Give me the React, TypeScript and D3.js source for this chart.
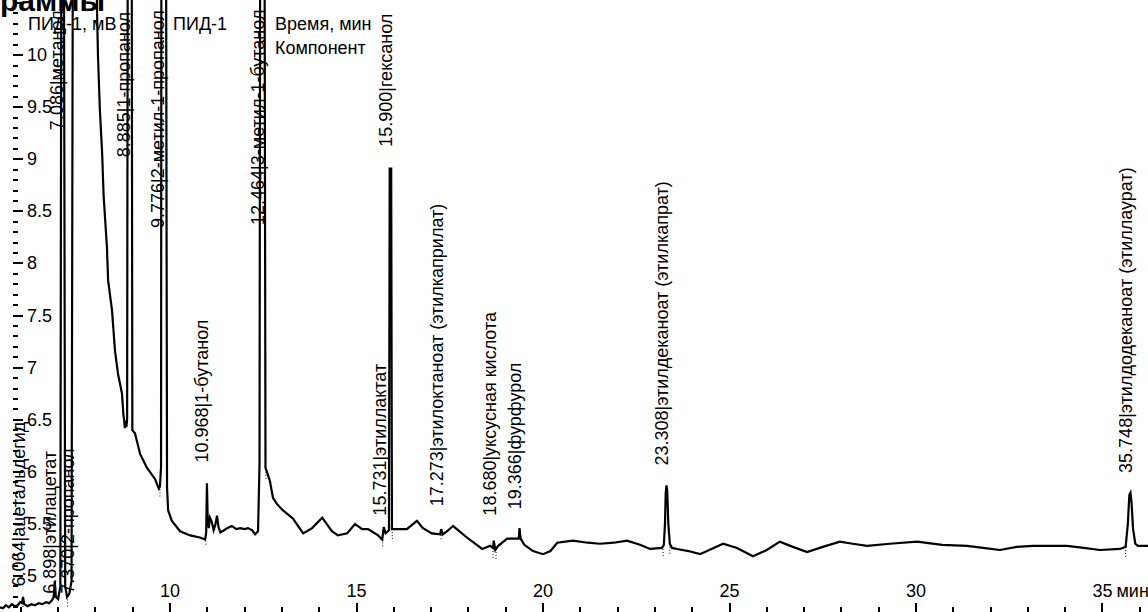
import React from "react";
import * as d3 from "d3";

const W = 1148;
const H = 612;
const FONT = "'Liberation Sans', Arial, sans-serif";
const FS = 18;

// Chromatogram trace: retention time (min) and detector signal (mV)
const traceTime = [
  5.44, 5.52, 5.6, 5.68, 5.76, 5.84, 5.92, 5.98, 6.03, 6.06, 6.09, 6.18, 6.28, 6.38, 6.48, 6.58, 6.68, 6.76,
  6.84, 6.88, 6.91, 6.94, 7.0, 7.06, 7.09, 7.15, 7.19, 7.24, 7.3, 7.36, 7.4, 8.0, 8.043, 8.07, 8.12, 8.18,
  8.22, 8.31, 8.34, 8.445, 8.525, 8.606, 8.713, 8.75, 8.77, 8.79, 8.81, 8.83, 8.85, 8.87, 8.97, 8.99, 9.06,
  9.2, 9.38, 9.6, 9.7, 9.73, 9.76, 9.77, 9.89, 9.92, 9.95, 10.05, 10.27, 10.54, 10.8, 10.94, 10.97, 10.99,
  11.01, 11.04, 11.07, 11.12, 11.17, 11.22, 11.26, 11.3, 11.35, 11.45, 11.53, 11.66, 11.78, 11.88, 12.0,
  12.09, 12.2, 12.28, 12.36, 12.4, 12.42, 12.53, 12.56, 12.68, 12.76, 12.87, 13.03, 13.3, 13.57, 13.81,
  14.08, 14.34, 14.5, 14.75, 14.96, 15.15, 15.31, 15.58, 15.69, 15.73, 15.78, 15.87, 15.89, 15.93, 15.95,
  16.09, 16.35, 16.62, 16.78, 17.02, 17.24, 17.27, 17.31, 17.43, 17.59, 17.96, 18.37, 18.58, 18.66, 18.68,
  18.72, 18.8, 19.04, 19.28, 19.35, 19.37, 19.4, 19.5, 19.73, 20.0, 20.2, 20.38, 20.8, 21.2, 21.53, 21.9,
  22.25, 22.6, 22.87, 23.19, 23.24, 23.27, 23.29, 23.31, 23.33, 23.36, 23.4, 23.46, 23.59, 23.9, 24.21,
  24.83, 25.2, 25.63, 26.0, 26.35, 26.7, 27.08, 27.5, 27.96, 28.3, 28.69, 29.3, 30.03, 30.7, 31.37, 31.8,
  32.25, 32.7, 33.14, 33.6, 34.05, 34.5, 34.93, 35.47, 35.62, 35.68, 35.72, 35.75, 35.78, 35.82, 35.88,
  35.95, 36.22,
];
const traceSignal = [
  4.7, 4.69, 4.72, 4.7, 4.73, 4.71, 4.72, 4.75, 4.74, 4.8, 4.73, 4.71, 4.73, 4.72, 4.74, 4.73, 4.75, 4.74,
  4.77, 4.8, 4.95, 4.8, 4.78, 4.9, 12.0, 12.0, 4.9, 4.8, 4.83, 4.95, 12.0, 12.0, 10.43, 9.98, 9.47, 9.06,
  8.65, 8.15, 7.84, 7.55, 7.16, 6.94, 6.75, 6.55, 6.5, 6.42, 6.49, 6.43, 6.5, 12.0, 12.0, 6.4, 6.37,
  6.17, 6.04, 5.93, 5.84, 5.86, 6.05, 12.0, 12.0, 5.85, 5.63, 5.53, 5.43, 5.39, 5.37, 5.35, 5.42, 5.89,
  5.55, 5.46, 5.56, 5.52, 5.44, 5.5, 5.58, 5.47, 5.42, 5.44, 5.46, 5.48, 5.45, 5.46, 5.45,
  5.46, 5.44, 5.4, 5.43, 6.08, 12.0, 12.0, 6.04, 5.91, 5.75, 5.69, 5.63, 5.55, 5.41, 5.46,
  5.56, 5.43, 5.39, 5.41, 5.5, 5.45, 5.45, 5.39, 5.35, 5.47, 5.41, 5.44, 8.91, 8.91, 5.45,
  5.45, 5.45, 5.53, 5.46, 5.41, 5.4, 5.45, 5.4, 5.43, 5.48, 5.37, 5.26, 5.29, 5.27, 5.34,
  5.25, 5.29, 5.36, 5.36, 5.36, 5.46, 5.36, 5.3, 5.24, 5.21, 5.24, 5.32, 5.34, 5.32, 5.31, 5.32,
  5.34, 5.3, 5.26, 5.27, 5.3, 5.5, 5.8, 5.87, 5.82, 5.5, 5.31, 5.27, 5.26, 5.24, 5.21,
  5.31, 5.27, 5.19, 5.25, 5.33, 5.28, 5.23, 5.28, 5.33, 5.31, 5.29, 5.31, 5.33, 5.3, 5.29, 5.27,
  5.25, 5.28, 5.29, 5.29, 5.29, 5.27, 5.25, 5.26, 5.28, 5.5, 5.78, 5.8, 5.7, 5.45, 5.31,
  5.29, 5.29,
];

// Identified peaks
const peakTimes = [6.064, 6.898, 7.086, 7.37, 8.885, 9.776, 10.968, 12.464, 15.731, 15.9, 17.273, 18.68, 19.366, 23.308, 35.748];
const peakNames = [
  "ацетальдегид", "этилацетат", "метанол", "2-пропанол", "1-пропанол", "2-метил-1-пропанол", "1-бутанол",
  "3-метил-1-бутанол", "этиллактат", "гексанол", "этилоктаноат (этилкаприлат)", "уксусная кислота",
  "фурфурол", "этилдеканоат (этилкапрат)", "этилдодеканоат (этиллаурат)",
];
// signal level (mV) at which each peak label begins
const labelLevels = [4.9, 4.83, 9.28, 4.83, 9.02, 8.34, 6.09, 8.37, 5.58, 9.12, 5.67, 5.58, 5.64, 6.06, 5.99];

// Peak start / end marks (min)
const markerTimes = [6.06, 7.25, 8.86, 9.73, 10.96, 12.4, 12.57, 15.7, 15.96, 17.27, 18.66, 18.74, 19.37, 23.22, 23.4, 35.62, 35.8];

const yTickLabels = [5, 5.5, 6, 6.5, 7, 7.5, 8, 8.5, 9, 9.5, 10];
const xTickLabels = [10, 15, 20, 25, 30, 35];

export default function App() {
  const x = d3.scaleLinear().domain([5.442, 36.22]).range([0, W]);
  const y = d3.scaleLinear().domain([4.655, 10.529]).range([H, 0]);

  const pts: [number, number][] = traceTime.map((t, i) => [t, traceSignal[i]]);
  const line = d3
    .line<[number, number]>()
    .x((d) => x(d[0]))
    .y((d) => y(d[1]));

  const interp = (t: number) => {
    const i = d3.bisector((d: [number, number]) => d[0]).left(pts, t);
    if (i <= 0) return pts[0][1];
    if (i >= pts.length) return pts[pts.length - 1][1];
    const a = pts[i - 1], b = pts[i];
    const f = (t - a[0]) / (b[0] - a[0]);
    return Math.min(a[1] + f * (b[1] - a[1]), 10.6);
  };

  const yMinorTicks = d3.range(47, 106).map((v) => v / 10);
  const xMinorTicks = d3.range(6, 37);
  const fmt = d3.format(".3f");
  const yFmt = (v: number) => (Number.isInteger(v) ? String(v) : v.toFixed(1));

  return (
    <svg
      width={W}
      height={H}
      style={{ position: "absolute", left: 0, top: 0, background: "#fff", overflow: "hidden" }}
      fontFamily={FONT}
    >
      <rect width={W} height={H} fill="#fff" />
      {/* title fragment */}
      <text x={0} y={11} fontSize={30} fontWeight="bold" fill="#000">раммы</text>

      {/* y axis ticks */}
      {yMinorTicks.map((v) => {
        const major = Math.abs(v * 2 - Math.round(v * 2)) < 1e-6;
        return (
          <line key={"yt" + v} x1={13} x2={major ? 23 : 18} y1={y(v)} y2={y(v)} stroke="#000" strokeWidth={2} shapeRendering="crispEdges" />
        );
      })}
      {yTickLabels.map((v) => (
        <text key={"yl" + v} x={27} y={y(v) + 6} fontSize={FS} fill="#000">{yFmt(v)}</text>
      ))}

      {/* x axis ticks */}
      {xMinorTicks.map((t) => (
        <line key={"xt" + t} x1={x(t)} x2={x(t)} y1={t % 5 === 0 ? 603 : 607} y2={H} stroke="#000" strokeWidth={2} shapeRendering="crispEdges" />
      ))}
      {xTickLabels.map((t) => (
        <text key={"xl" + t} x={x(t)} y={597} fontSize={FS} textAnchor="middle" fill="#000">{t}</text>
      ))}
      <text x={x(35) + 14} y={597} fontSize={FS} fill="#000">мин</text>

      {/* trace */}
      <path d={line(pts) || ""} fill="none" stroke="#000" strokeWidth={2.2} strokeLinejoin="miter" />

      {/* peak boundary marks */}
      {markerTimes.map((t) => {
        const yy = y(interp(t));
        return (
          <line key={"m" + t} x1={x(t)} x2={x(t)} y1={yy} y2={yy + 11} stroke="#000" strokeWidth={1} strokeDasharray="1,2" />
        );
      })}

      {/* peak labels */}
      {peakTimes.map((t, i) => {
        const px = x(t) + 2;
        const py = y(labelLevels[i]);
        return (
          <text key={"p" + i} transform={`translate(${px},${py}) rotate(-90)`} fontSize={FS} fill="#000">
            {fmt(t)}|{peakNames[i]}
          </text>
        );
      })}

      {/* headers */}
      <text x={28} y={30} fontSize={FS} fill="#000">ПИД-1, мВ</text>
      <text x={173} y={30} fontSize={FS} fill="#000">ПИД-1</text>
      <text x={275} y={30} fontSize={FS} fill="#000">Время, мин</text>
      <text x={275} y={54} fontSize={FS} fill="#000">Компонент</text>
    </svg>
  );
}
